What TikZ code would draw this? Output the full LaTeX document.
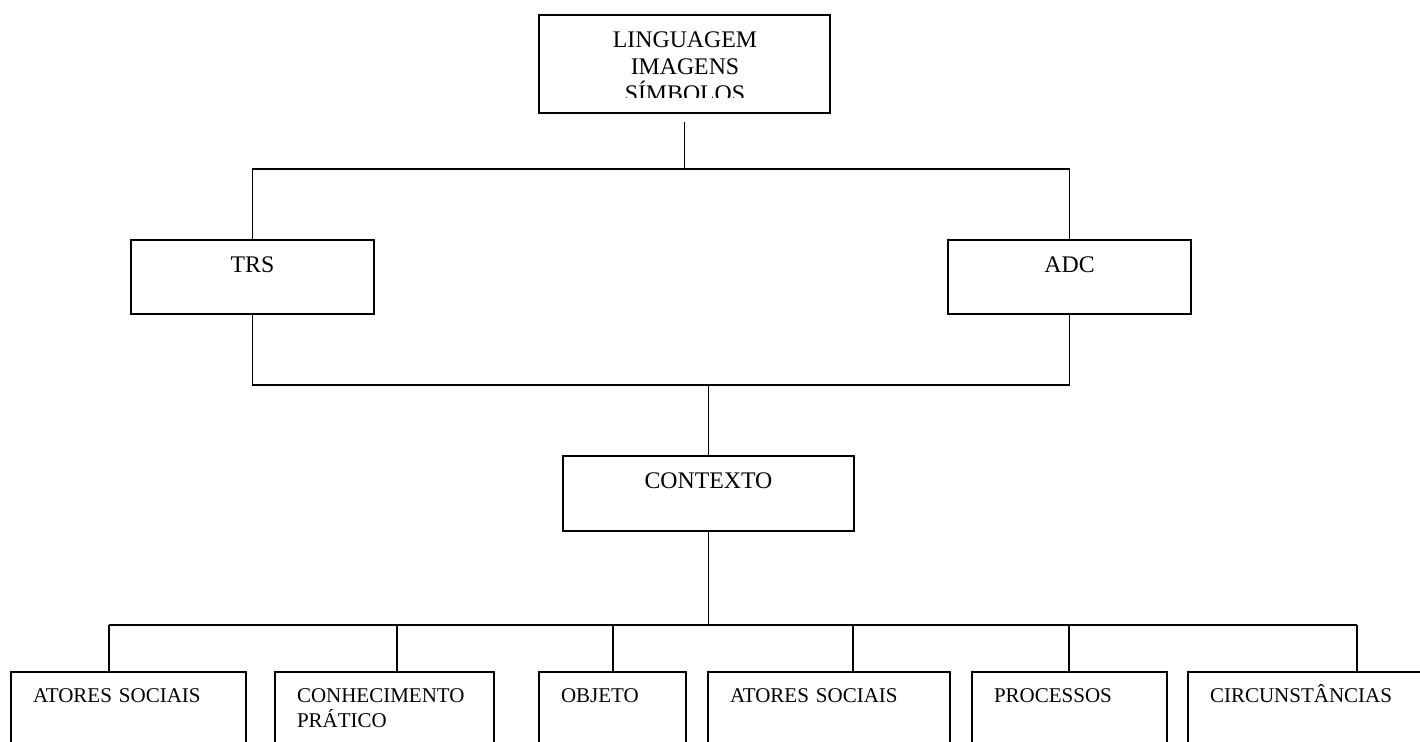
\documentclass[tikz,border=0pt]{standalone}
\usepackage{fontspec}
\setmainfont{Liberation Serif}

\begin{document}
\begin{tikzpicture}[x = 0.5pt, y = -0.5pt, line width = 0.85pt,
                      caixa/.style = {rectangle, draw, line width = 1pt, anchor = north, outer sep = 0pt,
                                      font = \fontsize{11.9}{13.5}\selectfont,
                                      inner sep = 0pt, text height = 16.5pt},
                      folha/.style = {rectangle, draw, line width = 1pt, anchor = north west, outer sep = 0pt,
                                      font = \fontsize{10.5}{12.5}\selectfont, align = left,
                                      inner xsep = 11pt, inner ysep = 0pt, text width = #1,
                                      text height = 15.5pt, text depth = 30pt}]
    \path [use as bounding box, clip] (0, 0) rectangle (1420, 742);
    \begin{scope}
      \clip (539, 15) rectangle (830, 98);
      \node [caixa, draw = none, align = center, text width = 140pt] (lingtxt) at (685, 15) {LINGUAGEM\\IMAGENS\\SÍMBOLOS};
    \end{scope}
    \node [caixa, minimum width = 145.5pt, minimum height = 49pt] (ling) at (684.5, 15) {};
    \node [caixa, minimum width = 121.5pt, text depth = 20.5pt] (trs) at (252.5, 240) {TRS};
    \node [caixa, minimum width = 121.5pt, text depth = 20.5pt] (adc) at (1069.5, 240) {ADC};
    \node [caixa, minimum width = 145.5pt, text depth = 21pt] (ctx) at (708.5, 456) {CONTEXTO};
    \node [folha = 95.5pt] (atores) at (11, 672) {ATORES SOCIAIS};
    \node [folha = 87.5pt] (conhec) at (275, 672) {CONHECIMENTO\\PRÁTICO};
    \node [folha = 51.5pt] (objeto) at (539, 672) {OBJETO};
    \node [folha = 99pt] (atores2) at (708, 672) {ATORES SOCIAIS};
    \node [folha = 75.5pt] (proc) at (972, 672) {PROCESSOS};
    \node [folha = 104pt] (circ) at (1188, 672) {CIRCUNSTÂNCIAS};
    \coordinate (j1) at (684.5, 169);
    \coordinate (j2) at (708.5, 385);
    \coordinate (d1) at (109, 625);
    \coordinate (d2) at (397, 625);
    \coordinate (d3) at (613, 625);
    \coordinate (d4) at (853, 625);
    \coordinate (d5) at (1069, 625);
    \coordinate (d6) at (1357, 625);
    \draw ([yshift = -4.5pt]ling.south) -- (j1);
    \draw (trs.north) |- (j1) -| (adc.north);
    \draw (trs.south) |- (j2) -| (adc.south);
    \draw (j2) -- (ctx.north);
    \draw (ctx.south) -- (ctx.south |- d1);
    \draw (d1) -- (d6);
    \draw (d1) -- (d1 |- atores.north);
    \draw (d2) -- (d2 |- conhec.north);
    \draw (d3) -- (d3 |- objeto.north);
    \draw (d4) -- (d4 |- atores2.north);
    \draw (d5) -- (d5 |- proc.north);
    \draw (d6) -- (d6 |- circ.north);
\end{tikzpicture}
\end{document}
